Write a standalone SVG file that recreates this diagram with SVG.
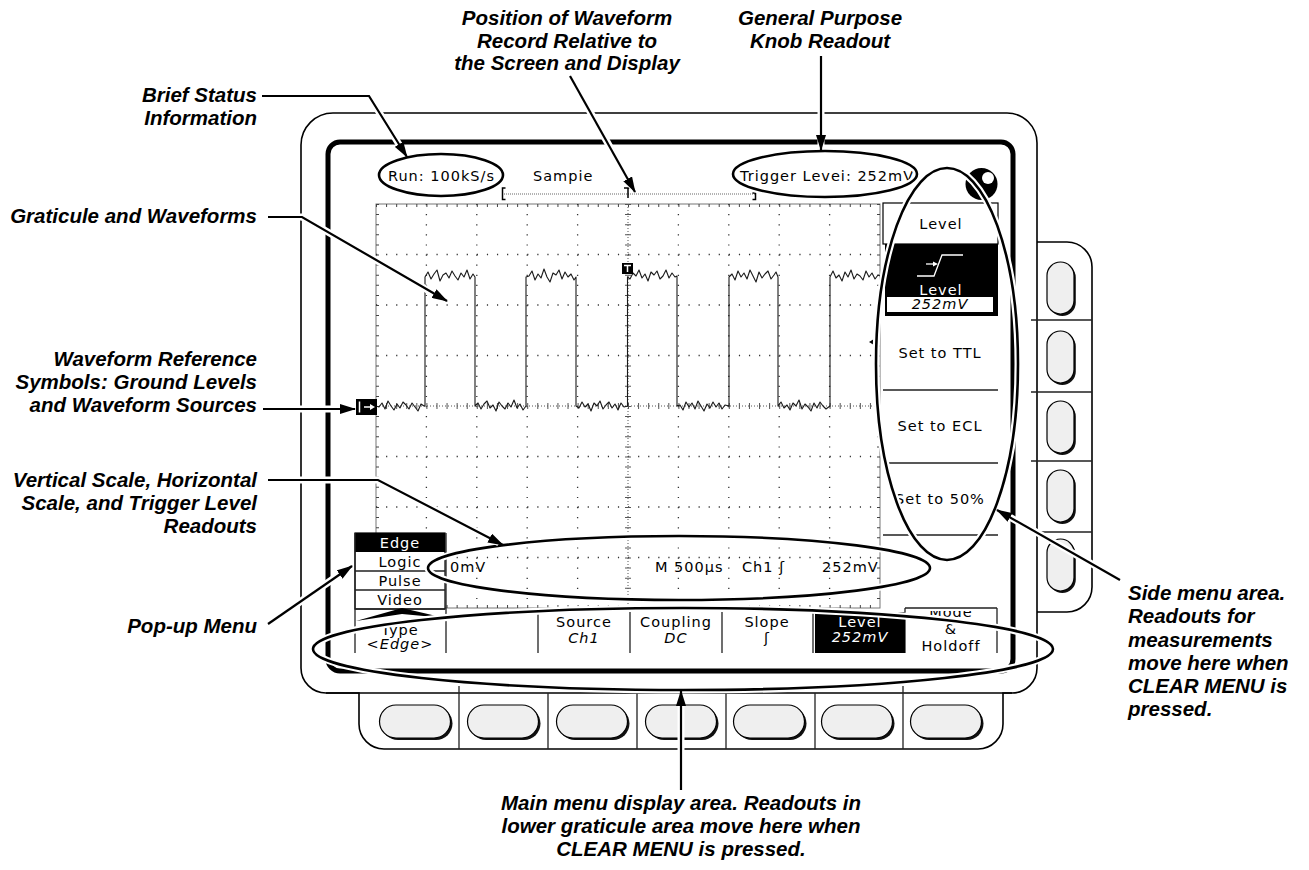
<svg xmlns="http://www.w3.org/2000/svg" width="1309" height="870" viewBox="0 0 1309 870">
<defs>
<style>
.lbl{font-family:"Liberation Sans",Arial,sans-serif;font-weight:bold;font-style:italic;font-size:20.5px;fill:#000}
.scr{font-family:"DejaVu Sans",sans-serif;font-size:14.5px;letter-spacing:1px;fill:#000}
.it{font-style:italic}
.wt{fill:#fff}
.mid{text-anchor:middle}
.end{text-anchor:end}
.bez{fill:none;stroke:#000;stroke-width:1.6}
.sep{fill:none;stroke:#222;stroke-width:1.3}
.halo{fill:none;stroke:#fff;stroke-width:7}
.ell{fill:none;stroke:#000;stroke-width:2.6}
.lead{fill:none;stroke:#000;stroke-width:2.2}
.dotv{fill:none;stroke:#333;stroke-width:1.3;stroke-dasharray:1.2 8.9}
.doth{fill:none;stroke:#333;stroke-width:1.3;stroke-dasharray:1.2 8.88}
.wave{fill:none;stroke:#1a1a1a;stroke-width:1.1;stroke-linejoin:round}
</style>
<marker id="ah" viewBox="0 0 16 10" refX="15" refY="5" markerWidth="16" markerHeight="10" markerUnits="userSpaceOnUse" orient="auto"><path d="M0,0 L16,5 L0,10 z" fill="#000"/></marker>
<g id="sbtn"><rect x="1.8" y="2" width="27" height="52" rx="13.5" fill="#111"/><rect x="0" y="0" width="27" height="52" rx="13.5" fill="#efefef" stroke="#000" stroke-width="1.2"/></g>
<g id="bbtn"><rect x="2" y="2" width="71" height="33" rx="16.5" fill="#111"/><rect x="0" y="0" width="71" height="33" rx="16.5" fill="#efefef" stroke="#000" stroke-width="1.2"/></g>
<clipPath id="modeclip"><rect x="905" y="611" width="92" height="45"/></clipPath>
</defs>
<rect width="1309" height="870" fill="#fff"/>

<g id="instrument">
  <path class="bez" d="M301,145 A32,32 0 0 1 333,113 L1007,113 A30,30 0 0 1 1037,143 L1037,668 A25,25 0 0 1 1012,693 L1003,693 L1003,724 A25,25 0 0 1 978,749 L384,749 A25,25 0 0 1 359,724 L359,693 L326,693 A25,25 0 0 1 301,668 Z"/>
  <path class="bez" d="M326,693 H1012"/>
  <path class="sep" d="M459,693V749 M548,693V749 M637,693V749 M726,693V749 M815,693V749 M903,693V749 M459,686V693 M903,686V693"/>
  <path class="bez" d="M1037,242 L1067,242 A25,25 0 0 1 1092,267 L1092,587 A25,25 0 0 1 1067,612 L1037,612"/>
  <path class="sep" d="M1031,320H1092 M1031,392H1092 M1031,461H1092 M1031,532H1092"/>
  <rect x="328" y="142" width="685" height="529" rx="12" fill="none" stroke="#000" stroke-width="5"/>
  <use href="#sbtn" x="1047" y="262"/>
  <use href="#sbtn" x="1047" y="331"/>
  <use href="#sbtn" x="1047" y="401"/>
  <use href="#sbtn" x="1047" y="470"/>
  <use href="#sbtn" x="1047" y="539"/>
  <use href="#bbtn" x="379.5" y="705"/>
  <use href="#bbtn" x="467.5" y="705"/>
  <use href="#bbtn" x="556.5" y="705"/>
  <use href="#bbtn" x="645.5" y="705"/>
  <use href="#bbtn" x="733.5" y="705"/>
  <use href="#bbtn" x="821.5" y="705"/>
  <use href="#bbtn" x="910.5" y="705"/>
  <circle cx="981.5" cy="184" r="16" fill="#000"/>
  <circle cx="988" cy="178" r="6" fill="#fff"/>
</g>

<g id="graticule">
  <rect x="376" y="204" width="504" height="404" fill="none" stroke="#777" stroke-width="1"/>
  <path d="M376,205.5H880 M376,606.5H880" fill="none" stroke="#444" stroke-width="3" stroke-dasharray="1 9.08"/>
  <path d="M377.5,204V608 M878.5,204V608" fill="none" stroke="#444" stroke-width="3" stroke-dasharray="1 9.1"/>
  <path class="dotv" d="M426.4,204V608 M476.8,204V608 M527.2,204V608 M577.6,204V608 M678.4,204V608 M728.8,204V608 M779.2,204V608 M829.6,204V608"/>
  <path class="doth" d="M376,254.5H880 M376,305H880 M376,355.5H880 M376,456.5H880 M376,507H880 M376,557.5H880"/>
  <path d="M376,406H880" fill="none" stroke="#555" stroke-width="1" stroke-dasharray="1 2"/>
  <path d="M376,406H880" fill="none" stroke="#555" stroke-width="6" stroke-dasharray="1 9.08"/>
  <path d="M628,204V608" fill="none" stroke="#555" stroke-width="1" stroke-dasharray="1 2"/>
  <path d="M628,204V608" fill="none" stroke="#555" stroke-width="6" stroke-dasharray="1 9.1"/>
  <polygon points="869,342 874,339 874,345" fill="#000"/>
</g>

<g id="waveform">
  <path class="wave" d="M376,406 L379,407 L382,403 L385,409 L388,401 L391,406 L394,410 L397,404 L400,408 L403,402 L406,405 L409,409 L412,403 L415,407 L418,411 L421,404 L424,406 L425,406 L425,277
  L428,272 L431,279 L434,274 L437,270 L440,281 L443,275 L446,273 L449,278 L452,271 L455,276 L458,280 L461,273 L464,277 L467,270 L470,279 L473,274 L475,277 L475,406
  L478,403 L481,409 L484,404 L487,401 L490,408 L493,405 L496,411 L499,402 L502,406 L505,409 L508,403 L511,407 L514,400 L517,408 L520,404 L523,410 L526,406 L526,277
  L529,276 L532,271 L535,280 L538,274 L541,278 L544,269 L547,277 L550,282 L553,273 L556,275 L559,270 L562,279 L565,272 L568,277 L571,274 L574,280 L576,277 L576,406
  L579,408 L582,402 L585,407 L588,404 L591,411 L594,403 L597,406 L600,401 L603,409 L606,405 L609,402 L612,408 L615,404 L618,410 L621,403 L624,407 L627.5,406 L627.5,277
  L630,279 L633,273 L636,276 L639,270 L642,278 L645,274 L648,281 L651,272 L654,275 L657,271 L660,279 L663,276 L666,270 L669,278 L672,273 L675,277 L677,276 L677,406
  L680,405 L683,410 L686,402 L689,407 L692,403 L695,409 L698,401 L701,406 L704,411 L707,404 L710,408 L713,402 L716,407 L719,403 L722,409 L725,405 L729,406 L729,277
  L732,274 L735,280 L738,271 L741,277 L744,273 L747,279 L750,270 L753,276 L756,282 L759,272 L762,278 L765,274 L768,271 L771,279 L774,275 L776,272 L778,277 L778,406
  L781,402 L784,408 L787,405 L790,410 L793,403 L796,406 L799,400 L802,409 L805,404 L808,407 L811,411 L814,403 L817,408 L820,402 L823,406 L826,409 L830,406 L830,277
  L833,271 L836,278 L839,275 L842,281 L845,272 L848,277 L851,270 L854,279 L857,274 L860,276 L863,280 L866,271 L869,277 L872,273 L875,279 L878,275 L880,276"/>
  <rect x="622" y="263" width="11" height="11" fill="#000"/>
  <path d="M624,265.5H631 M627.5,265.5V272" stroke="#fff" stroke-width="1.5" fill="none"/>
  <rect x="356" y="399" width="21" height="16" fill="#000"/>
  <path d="M359.5,401.5V412.5 M364,407H371" stroke="#fff" stroke-width="1.5" fill="none"/>
  <polygon points="370,404 375,407 370,410" fill="#fff"/>
</g>

<g id="status-bar">
  <text class="scr" x="388" y="181">Run: 100kS/s</text>
  <text class="scr" x="533" y="181">Sampie</text>
  <text class="scr" x="740" y="181">Trigger Levei: 252mV</text>
  <path d="M502,194H755" fill="none" stroke="#666" stroke-width="1" stroke-dasharray="1 1"/>
  <path d="M505.5,188H502.5V199.5H505.5 M752.5,193H755.5V199.5H752.5 M624,188H632 M628,188V198" fill="none" stroke="#000" stroke-width="1.5"/>
</g>

<g id="side-menu">
  <rect x="883" y="203" width="115" height="41" fill="#fff" stroke="#000" stroke-width="1.2"/>
  <text class="scr mid" x="941" y="229">Level</text>
  <rect x="885" y="244" width="113" height="72" fill="#000"/>
  <path d="M917,276H934L942,255H963" fill="none" stroke="#fff" stroke-width="1.3"/>
  <path d="M926,264H934" fill="none" stroke="#fff" stroke-width="1.3"/>
  <polygon points="933,261.5 938,264 933,266.5" fill="#fff"/>
  <text class="scr mid wt" x="941" y="295">Level</text>
  <rect x="887" y="297" width="106" height="15" fill="#fff"/>
  <text class="scr mid it" x="940" y="309">252mV</text>
  <path class="sep" d="M883,390H998 M883,463H998 M883,535H998"/>
  <text class="scr mid" x="940" y="358">Set to TTL</text>
  <text class="scr mid" x="940" y="431">Set to ECL</text>
  <text class="scr mid" x="940" y="504">Set to 50%</text>
</g>

<g id="readouts">
  <text class="scr" x="450" y="572">0mV</text>
  <text class="scr" x="655" y="572">M 500µs</text>
  <text class="scr" x="742" y="572">Ch1 ʃ</text>
  <text class="scr" x="822" y="572">252mV</text>
</g>

<g id="popup-menu">
  <rect x="355" y="533" width="90" height="76" fill="#fff" stroke="#000" stroke-width="1.2"/>
  <rect x="355" y="533" width="90" height="19" fill="#000"/>
  <path class="sep" d="M355,571H445 M355,590H445 M355,609H445"/>
  <text class="scr mid wt" x="400" y="548">Edge</text>
  <text class="scr mid" x="400" y="567">Logic</text>
  <text class="scr mid" x="400" y="586">Pulse</text>
  <text class="scr mid" x="400" y="605">Video</text>
</g>

<g id="main-menu">
  <path class="sep" d="M355,533V653 M446,533V653 M538,612V653 M630,612V653 M722,612V653 M813,612V653 M905,608V653 M997,608V653 M905,608H997"/>
  <rect x="815" y="612" width="90" height="41" fill="#000"/>
  <text class="scr mid" x="400" y="635">Type</text>
  <text class="scr mid it" x="400" y="649">&lt;Edge&gt;</text>
  <text class="scr mid" x="584" y="627">Source</text>
  <text class="scr mid it" x="584" y="643">Ch1</text>
  <text class="scr mid" x="676" y="627">Coupling</text>
  <text class="scr mid it" x="676" y="643">DC</text>
  <text class="scr mid" x="767" y="627">Slope</text>
  <text class="scr mid" x="767" y="643">ʃ</text>
  <text class="scr mid wt" x="860" y="627">Level</text>
  <text class="scr mid it wt" x="860" y="642">252mV</text>
  <text class="scr mid" x="951" y="617" clip-path="url(#modeclip)">Mode</text>
  <text class="scr mid" x="951" y="634">&amp;</text>
  <text class="scr mid" x="951" y="651">Holdoff</text>
  <polygon points="356,621 402,608 445,618 402,614" fill="#000"/>
</g>

<g id="highlights">
  <ellipse class="halo" cx="441" cy="175" rx="62" ry="21"/>
  <ellipse class="halo" cx="825" cy="174" rx="92" ry="23"/>
  <ellipse class="halo" cx="947" cy="364" rx="71" ry="196"/>
  <ellipse class="halo" cx="679" cy="568" rx="251" ry="32"/>
  <ellipse class="halo" cx="683" cy="649" rx="370" ry="41"/>
  <ellipse class="ell" cx="441" cy="175" rx="62" ry="21"/>
  <ellipse class="ell" cx="825" cy="174" rx="92" ry="23"/>
  <ellipse class="ell" cx="947" cy="364" rx="71" ry="196"/>
  <ellipse class="ell" cx="679" cy="568" rx="251" ry="32"/>
  <ellipse class="ell" cx="683" cy="649" rx="370" ry="41"/>
</g>

<g id="connectors">
  <path class="halo" d="M262,96 L369,96 L405,154"/>
  <path class="halo" d="M570,76 L633,188"/>
  <path class="halo" d="M821,56 L821,146"/>
  <path class="halo" d="M268,217 L302,217 L443,299"/>
  <path class="halo" d="M263,409 L351,409"/>
  <path class="halo" d="M268,480 L378,480 L499,543"/>
  <path class="halo" d="M268,624 L349,568"/>
  <path class="halo" d="M1120,580 L1001,512"/>
  <path class="halo" d="M681,790 L681,695"/>
  <path class="lead" marker-end="url(#ah)" d="M262,96 L369,96 L407,157"/>
  <path class="lead" marker-end="url(#ah)" d="M570,76 L635,192"/>
  <path class="lead" marker-end="url(#ah)" d="M821,56 L821,150"/>
  <path class="lead" marker-end="url(#ah)" d="M268,217 L302,217 L447,301"/>
  <path class="lead" marker-end="url(#ah)" d="M263,409 L355,409"/>
  <path class="lead" marker-end="url(#ah)" d="M268,480 L378,480 L503,545"/>
  <path class="lead" marker-end="url(#ah)" d="M268,624 L352,566"/>
  <path class="lead" marker-end="url(#ah)" d="M1120,580 L997,510"/>
  <path class="lead" marker-end="url(#ah)" d="M681,790 L681,691"/>
</g>

<g id="lbl-brief"><text class="lbl end" x="257" y="102">Brief Status</text><text class="lbl end" x="257" y="125">Information</text></g>
<g id="lbl-position"><text class="lbl mid" x="567" y="25">Position of Waveform</text><text class="lbl mid" x="567" y="48">Record Relative to</text><text class="lbl mid" x="567" y="70">the Screen and Display</text></g>
<g id="lbl-knob"><text class="lbl mid" x="820" y="25">General Purpose</text><text class="lbl mid" x="820" y="48">Knob Readout</text></g>
<g id="lbl-graticule"><text class="lbl end" x="257" y="223">Graticule and Waveforms</text></g>
<g id="lbl-wfref"><text class="lbl end" x="257" y="366">Waveform Reference</text><text class="lbl end" x="257" y="389">Symbols: Ground Levels</text><text class="lbl end" x="257" y="412">and Waveform Sources</text></g>
<g id="lbl-scale"><text class="lbl end" x="257" y="487">Vertical Scale, Horizontal</text><text class="lbl end" x="257" y="510">Scale, and Trigger Level</text><text class="lbl end" x="257" y="533">Readouts</text></g>
<g id="lbl-popup"><text class="lbl end" x="257" y="633">Pop-up Menu</text></g>
<g id="lbl-side"><text class="lbl" x="1128" y="600">Side menu area.</text><text class="lbl" x="1128" y="623">Readouts for</text><text class="lbl" x="1128" y="647">measurements</text><text class="lbl" x="1128" y="670">move here when</text><text class="lbl" x="1128" y="693">CLEAR MENU is</text><text class="lbl" x="1128" y="716">pressed.</text></g>
<g id="lbl-main"><text class="lbl mid" x="681" y="810">Main menu display area. Readouts in</text><text class="lbl mid" x="681" y="833">lower graticule area move here when</text><text class="lbl mid" x="681" y="856">CLEAR MENU is pressed.</text></g>
</svg>
